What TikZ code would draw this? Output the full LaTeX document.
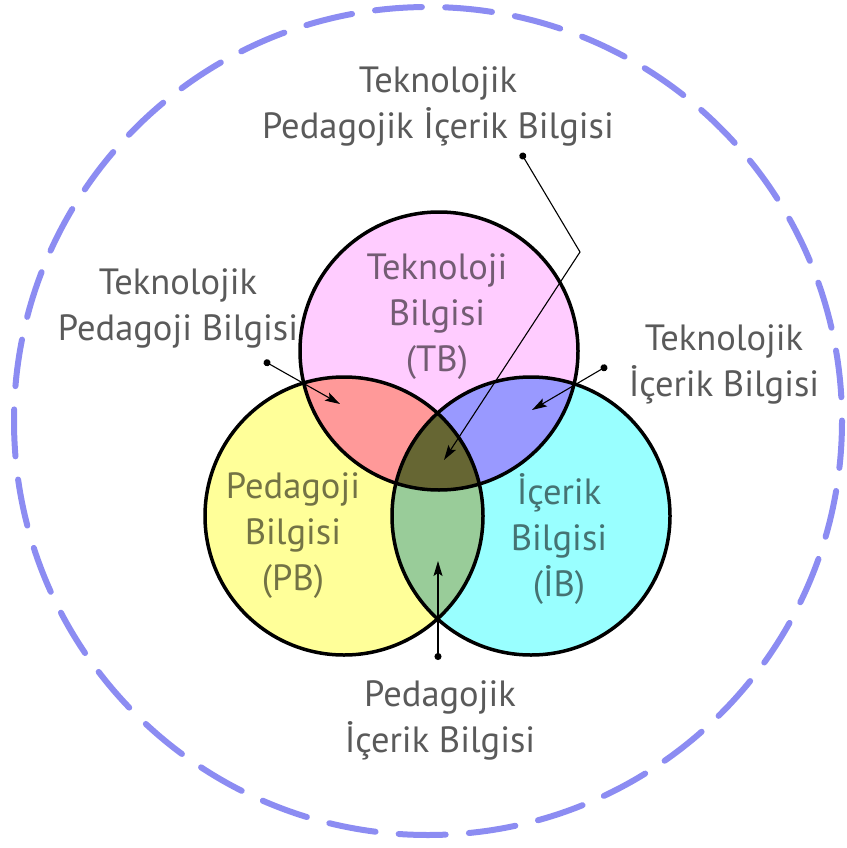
\documentclass[tikz,border=0pt]{standalone}
\usepackage{fontspec}
\setmainfont{PT Sans}
\usepackage{xcolor}
\usetikzlibrary{arrows.meta}

\definecolor{tbpink}{HTML}{FFCCFF}
\definecolor{pbyellow}{HTML}{FFFF99}
\definecolor{ibcyan}{HTML}{99FFFF}
\definecolor{tpbred}{HTML}{FF9999}
\definecolor{tibblue}{HTML}{9999FF}
\definecolor{pibgreen}{HTML}{99CC99}
\definecolor{tpibolive}{HTML}{666633}
\definecolor{ringblue}{HTML}{8C8CF2}
\definecolor{labelgray}{HTML}{5A5A5A}

\begin{document}
\begin{tikzpicture}[x=1pt,y=-1pt,
  every node/.style={inner sep=0pt,align=center,font=\fontsize{36.5}{46}\selectfont},
  label/.style={text=labelgray},
  inside/.style={text=black,text opacity=0.55},
  ring/.style={ringblue,line width=6pt,line cap=round,dash pattern=on 47pt off 23.3pt},
  rim/.style={black,line width=3.5pt},
  pointer/.style={black,line width=1.1pt,{Circle[length=7pt]}-{Stealth[length=15pt,width=9pt,inset=3pt]}}]
\useasboundingbox (0,0) rectangle (846,848);
\def\r{139}
\coordinate (tb) at (439,351);
\coordinate (pb) at (344,516);
\coordinate (ib) at (531,516);
\draw [ring] (428,421) circle (414);
\fill [tbpink] (tb) circle (\r);
\fill [pbyellow] (pb) circle (\r);
\fill [ibcyan] (ib) circle (\r);
\begin{scope}
\clip (tb) circle (\r);
\fill [tpbred] (pb) circle (\r);
\fill [tibblue] (ib) circle (\r);
\end{scope}
\begin{scope}
\clip (pb) circle (\r);
\fill [pibgreen] (ib) circle (\r);
\end{scope}
\begin{scope}
\clip (tb) circle (\r);
\clip (pb) circle (\r);
\fill [tpibolive] (ib) circle (\r);
\end{scope}
\draw [rim] (tb) circle (\r);
\draw [rim] (pb) circle (\r);
\draw [rim] (ib) circle (\r);
\node [inside] (tbtext) at (437,316.5) {Teknoloji\\Bilgisi\\(TB)};
\node [inside] (pbtext) at (293,535.5) {Pedagoji\\Bilgisi\\(PB)};
\node [inside] (ibtext) at (559,539) {İçerik\\Bilgisi\\(İB)};
\node [label] (tpik) at (438,106) {Teknolojik\\Pedagojik İçerik Bilgisi};
\node [label] (tpb) at (178,308.5) {Teknolojik\\Pedagoji Bilgisi};
\node [label] (tib) at (724,364.5) {Teknolojik\\İçerik Bilgisi};
\node [label] (pib) at (440,720) {Pedagojik\\İçerik Bilgisi};
\coordinate (tpik-dot) at (521,153);
\coordinate (tpik-bend) at (580,252);
\coordinate (tpik-tip) at (444,460);
\coordinate (tpb-dot) at (264,361);
\coordinate (tpb-tip) at (340,404);
\coordinate (tib-dot) at (607,366);
\coordinate (tib-tip) at (532,410);
\coordinate (pib-dot) at (438,660);
\coordinate (pib-tip) at (438,561);
\draw [pointer] (tpik-dot) -- (tpik-bend) -- (tpik-tip);
\draw [pointer] (tpb-dot) -- (tpb-tip);
\draw [pointer] (tib-dot) -- (tib-tip);
\draw [pointer] (pib-dot) -- (pib-tip);
\end{tikzpicture}
\end{document}
